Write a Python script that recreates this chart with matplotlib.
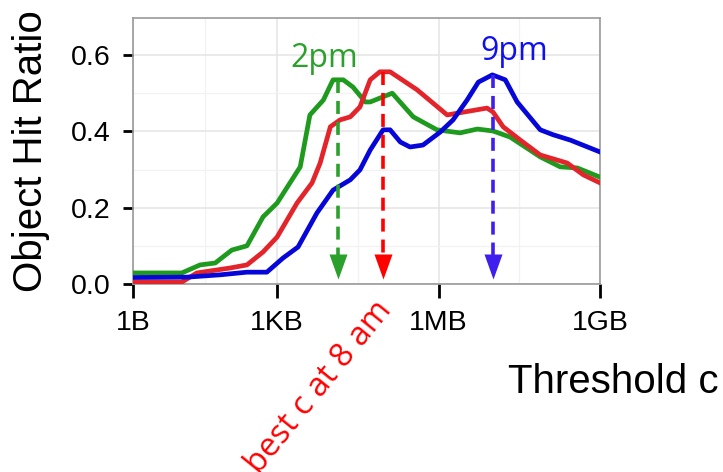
import matplotlib
matplotlib.use("Agg")
import matplotlib.pyplot as plt
import numpy as np

# threshold c as log10(bytes), object hit ratio per time of day
green_lgc = [0.32, 1.23, 1.57, 1.85, 2.16, 2.44, 2.74, 3.0, 3.43, 3.61, 3.86, 4.04, 4.23, 4.41,
             4.64, 4.73, 5.14, 5.53, 5.97, 6.40, 6.72, 7.01, 7.33, 7.89, 8.26, 8.58, 9.0]
green_ohr = [0.029, 0.029, 0.050, 0.055, 0.089, 0.10, 0.176, 0.212, 0.307, 0.443, 0.482, 0.535, 0.535, 0.516,
             0.477, 0.477, 0.50, 0.438, 0.404, 0.396, 0.406, 0.401, 0.385, 0.333, 0.307, 0.304, 0.28]

red_lgc = [0.32, 1.23, 1.51, 2.13, 2.44, 2.74, 3.0, 3.37, 3.65, 3.80, 3.99, 4.17, 4.36, 4.54,
           4.73, 4.91, 5.10, 5.60, 6.16, 6.90, 7.01, 7.20, 7.52, 7.89, 8.39, 8.69, 9.0]
red_ohr = [0.005, 0.005, 0.029, 0.042, 0.05, 0.084, 0.123, 0.212, 0.265, 0.317, 0.412, 0.43, 0.438, 0.464,
           0.535, 0.556, 0.556, 0.509, 0.443, 0.461, 0.451, 0.412, 0.377, 0.338, 0.317, 0.286, 0.265]

blue_lgc = [0.32, 1.33, 1.94, 2.44, 2.81, 3.11, 3.39, 3.74, 4.04, 4.36, 4.54, 4.73, 4.97, 5.10,
            5.29, 5.47, 5.71, 6.03, 6.27, 6.53, 6.74, 7.0, 7.24, 7.46, 7.89, 8.13, 8.45, 9.0]
blue_ohr = [0.017, 0.018, 0.024, 0.031, 0.031, 0.068, 0.097, 0.186, 0.246, 0.273, 0.299, 0.351, 0.404, 0.404,
            0.372, 0.359, 0.364, 0.398, 0.43, 0.482, 0.529, 0.548, 0.535, 0.477, 0.404, 0.391, 0.377, 0.346]

# best c arrows: 2pm, 8am, 9pm
best_lgc = [4.13, 4.97, 7.01]
best_top = [0.535, 0.556, 0.548]
arrow_cols = ['#2ca02c', '#ff0000', '#3f1fee']

x_ticks_lg = [0.323, 3, 6, 9]
x_ticklabels = ['1B', '1KB', '1MB', '1GB']
y_ticks = [0.0, 0.2, 0.4, 0.6]

plt.rcParams['font.family'] = ['Liberation Sans', 'DejaVu Sans']

fig = plt.figure(figsize=(7.23, 4.72), dpi=100)
ax = fig.add_axes([133 / 723, 188 / 472, 467 / 723, 266 / 472])

ax.plot(10 ** np.array(green_lgc), green_ohr, color='#1e9a1e', lw=3.4, solid_joinstyle='round', zorder=3)
ax.plot(10 ** np.array(red_lgc), red_ohr, color='#e3242b', lw=3.4, solid_joinstyle='round', zorder=3)
ax.plot(10 ** np.array(blue_lgc), blue_ohr, color='#0606d8', lw=3.4, solid_joinstyle='round', zorder=4)

# arrow head with its tip at the marker origin
head = [(-0.36, 1), (0.36, 1), (0, 0)]
for lg, top, c in zip(best_lgc, best_top, arrow_cols):
    ax.plot([10 ** lg, 10 ** lg], [top, 0.05], color=c, lw=2.6, linestyle=(0, (3.6, 2.2)), zorder=5)
    ax.plot([10 ** lg], [0.012], marker=head, markersize=36, color=c, markeredgewidth=0, zorder=5)

ax.text(10 ** 3.87, 0.569, '2pm', color='#2ca02c', fontsize=23, family=['Open Sans', 'DejaVu Sans'],
        ha='center', va='baseline')
ax.text(10 ** 7.41, 0.587, '9pm', color='#1010ee', fontsize=23, family=['Open Sans', 'DejaVu Sans'],
        ha='center', va='baseline')
ax.annotate('best c at 8 am', xy=(10 ** best_lgc[1], 0), xycoords=('data', 'axes fraction'),
            xytext=(6.5, -19), textcoords='offset points', color='#ff0000', fontsize=23.5,
            family=['Open Sans', 'DejaVu Sans'], ha='right', va='baseline', rotation=51,
            rotation_mode='anchor', annotation_clip=False)

ax.set_xscale('log')
ax.set_xlim(10 ** 0.323, 1e9)
ax.set_ylim(0, 0.697)
ax.set_xticks([10 ** v for v in x_ticks_lg])
ax.set_xticklabels(x_ticklabels)
ax.xaxis.set_minor_locator(matplotlib.ticker.FixedLocator([10 ** 1.66, 10 ** 4.5, 10 ** 7.5]))
ax.set_yticks(y_ticks)
ax.set_yticklabels(['%.1f' % v for v in y_ticks])
ax.yaxis.set_minor_locator(matplotlib.ticker.FixedLocator([0.1, 0.3, 0.5]))

ax.grid(which='major', color='#e4e4e4', lw=1.1)
ax.grid(which='minor', color='#f2f2f2', lw=0.9)
ax.set_axisbelow(True)
ax.tick_params(which='minor', length=0)
ax.tick_params(axis='x', which='major', length=10, width=2, pad=9, labelsize=20.5, color='black')
ax.tick_params(axis='y', which='major', length=7, width=2, pad=9, labelsize=20.5, color='black')
for s in ax.spines.values():
    s.set_color('#999999')
    s.set_linewidth(1.2)

ax.set_ylabel('Object Hit Ratio', fontsize=29)
ax.yaxis.set_label_coords(-0.178, 0.5)
ax.set_xlabel('Threshold c', fontsize=29, ha='left', va='baseline')
ax.xaxis.set_label_coords(0.803, -0.41)

fig.savefig('out.png', dpi=100)
